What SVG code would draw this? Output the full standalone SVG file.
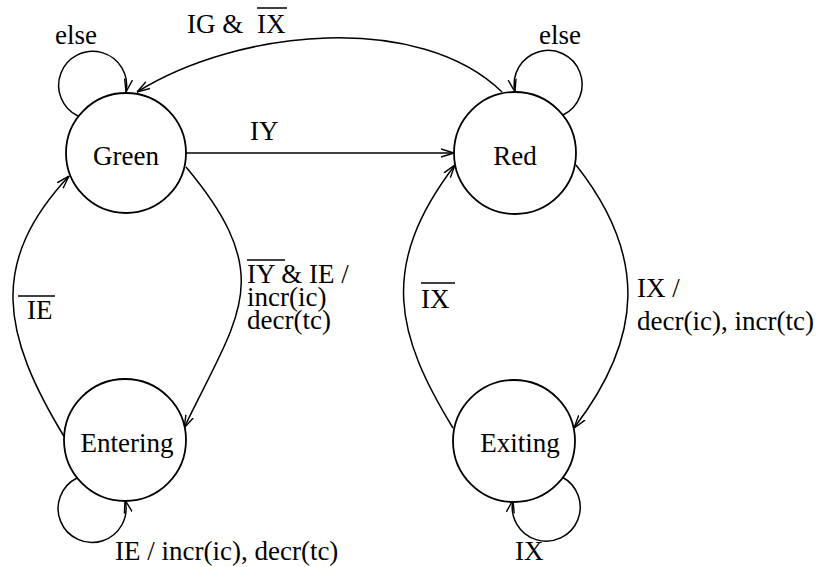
<svg xmlns="http://www.w3.org/2000/svg" width="827" height="567" viewBox="0 0 827 567">
<style>
text{font-family:"Liberation Serif","Times New Roman",serif;font-size:27px;fill:#000}
.node{fill:#fff;stroke:#000;stroke-width:1.8}
.edge{fill:none;stroke:#000;stroke-width:1.5}
.bar{stroke:#000;stroke-width:1.5}
</style>
<defs>
<marker id="arr" viewBox="0 0 13 10" refX="13" refY="5" markerWidth="13" markerHeight="10" orient="auto" markerUnits="userSpaceOnUse">
<path d="M0,1 L13,5 L0,9" fill="none" stroke="#000" stroke-width="1.4"/>
</marker>
</defs>
<rect width="827" height="567" fill="#fff"/>
<g id="connectors">
<path class="edge" d="M78,116 A34,34 0 1 1 126,92" marker-end="url(#arr)"/>
<path class="edge" d="M563,115 A34,34 0 1 0 515,92" marker-end="url(#arr)"/>
<path class="edge" d="M77,478 A34,34 0 1 0 125,500" marker-end="url(#arr)"/>
<path class="edge" d="M562,477 A34,34 0 1 1 513,500" marker-end="url(#arr)"/>
<path class="edge" d="M186,153 L454,153" marker-end="url(#arr)"/>
<path class="edge" d="M502,92 C420,12 240,28 137,92" marker-end="url(#arr)"/>
<path class="edge" d="M186,167 C279,278 238,315 184,428" marker-end="url(#arr)"/>
<path class="edge" d="M65,438 C1,333 -11,262 69,176" marker-end="url(#arr)"/>
<path class="edge" d="M576,165 C648,256 643,338 574,428" marker-end="url(#arr)"/>
<path class="edge" d="M453,428 C397,336 377,267 455,165" marker-end="url(#arr)"/>
</g>
<g id="labels">
<text x="55" y="44">else</text>
<text x="539" y="44">else</text>
<text x="187" y="33">IG &amp; <tspan x="257">IX</tspan></text>
<line class="bar" x1="257" y1="8" x2="287" y2="8"/>
<text x="250" y="140">IY</text>
<text x="247" y="283">IY &amp; IE /<tspan x="247" dy="23">incr(ic)</tspan><tspan x="247" dy="23">decr(tc)</tspan></text>
<line class="bar" x1="247" y1="260" x2="285" y2="260"/>
<text x="27" y="319">IE</text>
<line class="bar" x1="18" y1="296" x2="55" y2="296"/>
<text x="421" y="308">IX</text>
<line class="bar" x1="421" y1="283" x2="455" y2="283"/>
<text x="637" y="297">IX /<tspan x="637" dy="33">decr(ic), incr(tc)</tspan></text>
<text x="115" y="560">IE / incr(ic), decr(tc)</text>
<text x="515" y="560">IX</text>
</g>
<g id="node-green"><circle class="node" cx="126" cy="153" r="60"/><text x="126" y="165" text-anchor="middle">Green</text></g>
<g id="node-red"><circle class="node" cx="515" cy="153" r="61"/><text x="515" y="165" text-anchor="middle">Red</text></g>
<g id="node-entering"><circle class="node" cx="125" cy="440" r="61"/><text x="127" y="452" text-anchor="middle">Entering</text></g>
<g id="node-exiting"><circle class="node" cx="514" cy="441" r="61"/><text x="520" y="452" text-anchor="middle">Exiting</text></g>
</svg>
